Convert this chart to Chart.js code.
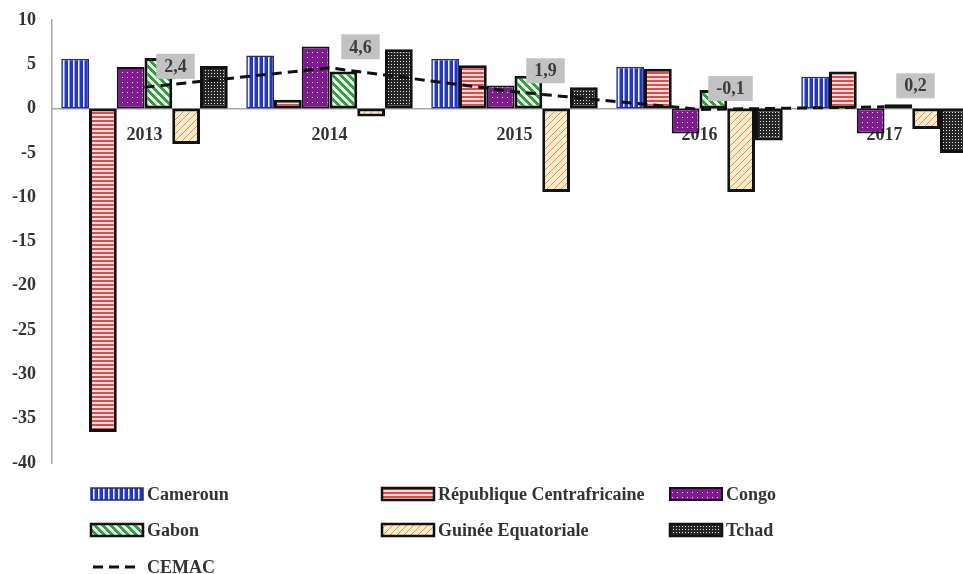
<!DOCTYPE html>
<html lang="fr">
<head>
<meta charset="utf-8">
<title>Croissance du PIB réel — pays de la CEMAC</title>
<script src="https://cdn.jsdelivr.net/npm/chart.js@4/dist/chart.umd.min.js"></script>
<style>
  html, body { margin: 0; padding: 0; background: #ffffff; overflow: hidden; }
  #wrap { width: 963px; height: 574px; overflow: hidden; position: relative; }
  canvas { display: block; }
</style>
</head>
<body>
<div id="wrap"><canvas id="chart" width="980" height="574"></canvas></div>
<script>
// Années
const years = ['2013', '2014', '2015', '2016', '2017'];

// Taux de croissance par pays (%)
const cameroun = [5.6, 6.0, 5.6, 4.7, 3.6];
const centrafrique = [-36.5, 1.0, 4.9, 4.5, 4.2];
const congo = [4.7, 7.0, 2.6, -2.8, -2.8];
const gabon = [5.7, 4.2, 3.7, 2.1, 0.5];
const guinee = [-4.0, -0.9, -9.4, -9.4, -2.3];
const tchad = [4.8, 6.7, 2.4, -3.6, -5.0];

// Moyenne de la zone
const cemac = [2.4, 4.6, 1.9, -0.1, 0.2];

// Axe des ordonnées
const yMin = -40;
const yMax = 10;
const yStep = 5;

const FONT = '"Liberation Serif", "Times New Roman", serif';

// Motifs de remplissage des barres
function makePattern(w, h, paint) {
  const c = document.createElement('canvas');
  c.width = w; c.height = h;
  const g = c.getContext('2d');
  paint(g, w, h);
  return g.createPattern(c, 'repeat');
}
function pixels(w, h, pick) {
  return (g) => {
    for (let y = 0; y < h; y++) {
      for (let x = 0; x < w; x++) {
        g.fillStyle = pick(x, y);
        g.fillRect(x, y, 1, 1);
      }
    }
  };
}

const patCameroun = makePattern(5, 5, pixels(5, 5, (x) => x < 3 ? '#2637b8' : (x === 3 ? '#f0f2ff' : '#8e9ae6')));
const patCentrafrique = makePattern(4, 4, pixels(4, 4, (x, y) => y < 2 ? '#d84c4c' : '#fbdada'));
const patCongo = makePattern(5, 5, pixels(5, 5, (x, y) => (x === 2 && y === 2) ? '#f4dcf8' : '#7d1b8f'));
const patGabon = makePattern(8, 8, pixels(8, 8, (x, y) => (((x - y) % 8) + 8) % 8 < 4 ? '#32a03e' : '#e8f7e8'));
const patGuinee = makePattern(7, 7, pixels(7, 7, (x, y) => ((x + y) % 7) < 1 ? '#e3963f' : '#fdebcf'));
const patTchad = makePattern(3, 3, pixels(3, 3, (x, y) => (x === 1 && y === 1) ? '#e6e6e6' : '#262626'));

function barSet(label, data, fill, border, width) {
  return {
    type: 'bar',
    label: label,
    data: data,
    backgroundColor: fill,
    borderColor: border,
    borderWidth: width,
    borderSkipped: false,
    categoryPercentage: 0.9,
    barPercentage: 1.0,
    order: 1
  };
}

const datasets = [
  barSet('Cameroun', cameroun, patCameroun, '#1d2b86', 1.5),
  barSet('République Centrafricaine', centrafrique, patCentrafrique, '#111111', 3),
  barSet('Congo', congo, patCongo, '#1a0b1e', 2),
  barSet('Gabon', gabon, patGabon, '#111111', 3),
  barSet('Guinée Equatoriale', guinee, patGuinee, '#111111', 3),
  barSet('Tchad', tchad, patTchad, '#111111', 3),
  {
    type: 'line',
    label: 'CEMAC',
    data: cemac,
    borderColor: '#111111',
    borderWidth: 3,
    borderDash: [10, 6],
    pointRadius: 0,
    fill: false,
    tension: 0,
    order: 0
  }
];

// Étiquettes grises des valeurs CEMAC
const cemacLabels = {
  id: 'cemacLabels',
  afterDatasetsDraw(chart, args, opts) {
    const idx = chart.data.datasets.findIndex(d => d.label === 'CEMAC');
    const meta = chart.getDatasetMeta(idx);
    const ctx = chart.ctx;
    ctx.save();
    ctx.font = 'bold 18px ' + FONT;
    ctx.textAlign = 'center';
    ctx.textBaseline = 'middle';
    meta.data.forEach((pt, i) => {
      const v = chart.data.datasets[idx].data[i];
      const txt = v.toFixed(1).replace('.', ',');
      const tw = ctx.measureText(txt).width;
      const cx = pt.x + opts.dx;
      const cy = pt.y + opts.dy;
      const w = tw + 16, h = 25;
      ctx.fillStyle = '#c2c2c2';
      ctx.fillRect(cx - w / 2, cy - h / 2, w, h);
      ctx.fillStyle = '#3c3c3c';
      ctx.fillText(txt, cx, cy + 1);
    });
    ctx.restore();
  }
};

// Légende en grille (3 colonnes)
const gridLegend = {
  id: 'gridLegend',
  afterDraw(chart, args, opts) {
    const ctx = chart.ctx;
    ctx.save();
    ctx.font = 'bold 18px ' + FONT;
    ctx.textBaseline = 'middle';
    ctx.textAlign = 'left';
    chart.data.datasets.forEach((ds, i) => {
      const col = i % 3, row = Math.floor(i / 3);
      const x = opts.cols[col];
      const y = opts.rows[row];
      if (ds.type === 'line') {
        ctx.strokeStyle = ds.borderColor;
        ctx.lineWidth = 3;
        ctx.setLineDash([10, 6]);
        ctx.beginPath();
        ctx.moveTo(x + 2, y);
        ctx.lineTo(x + 50, y);
        ctx.stroke();
        ctx.setLineDash([]);
      } else {
        ctx.fillStyle = ds.backgroundColor;
        ctx.fillRect(x, y - 6, opts.boxW, 12);
        ctx.strokeStyle = ds.borderColor;
        ctx.lineWidth = Math.min(ds.borderWidth, 2.5);
        ctx.strokeRect(x, y - 6, opts.boxW, 12);
      }
      ctx.fillStyle = '#333333';
      ctx.fillText(ds.label, x + opts.boxW + 4, y + 1);
    });
    ctx.restore();
  }
};

new Chart(document.getElementById('chart'), {
  data: { labels: years, datasets: datasets },
  options: {
    responsive: false,
    animation: false,
    devicePixelRatio: 1,
    layout: { padding: { top: 20, right: 3, bottom: 111, left: 0 } },
    plugins: {
      legend: { display: false },
      tooltip: { enabled: false },
      cemacLabels: { dx: 31, dy: -21 },
      gridLegend: { cols: [91, 382, 670], rows: [494, 530, 567], boxW: 52 }
    },
    scales: {
      x: {
        position: { y: 0 },
        grid: { display: false, drawTicks: false },
        border: { display: true, color: '#a6a6a6', width: 1.5 },
        ticks: {
          padding: 16,
          color: '#333333',
          font: { family: FONT, size: 18, weight: 'bold' },
          maxRotation: 0,
          autoSkip: false
        }
      },
      y: {
        min: yMin,
        max: yMax,
        afterFit(scale) {
          scale.width = 52;
          scale.paddingTop = 0;
          scale.paddingBottom = 0;
        },
        grid: { display: false, drawTicks: false },
        border: { display: true, color: '#a6a6a6', width: 1.5 },
        ticks: {
          stepSize: yStep,
          padding: 16,
          color: '#333333',
          font: { family: FONT, size: 18, weight: 'bold' },
          callback: (v) => String(v)
        }
      }
    }
  },
  plugins: [cemacLabels, gridLegend]
});
</script>
</body>
</html>
